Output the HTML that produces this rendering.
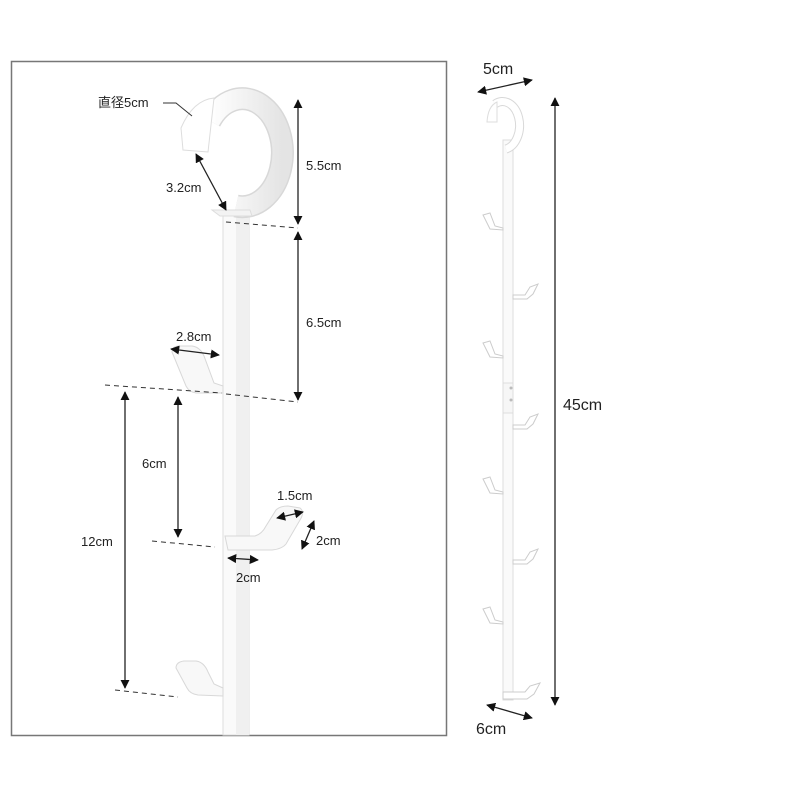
<!DOCTYPE html>
<html><head><meta charset="utf-8"><style>
html,body{margin:0;padding:0;background:#fff;}
svg{display:block;}
text{font-family:"Liberation Sans","Noto Sans CJK JP",sans-serif;fill:#222;}
</style></head><body>
<svg width="800" height="800" viewBox="0 0 800 800" xmlns="http://www.w3.org/2000/svg">
<defs>
<marker id="a" viewBox="0 0 10 10" refX="9" refY="5" markerWidth="7" markerHeight="7" orient="auto-start-reverse"><path d="M0,0 L10,5 L0,10 z" fill="#111"/></marker>
<linearGradient id="g" x1="0" x2="1"><stop offset="0" stop-color="#fff"/><stop offset="1" stop-color="#e4e4e4"/></linearGradient>
</defs>
<rect x="11.5" y="61.5" width="435" height="674" fill="#fff" stroke="#777" stroke-width="1.5"/>
<!-- bar -->
<rect x="223" y="214" width="26" height="521" fill="#fafafa" stroke="#ddd"/>
<rect x="236" y="214" width="13" height="521" fill="#f0f0f0"/>
<!-- ring -->
<path d="M236,206 A40,54 0 1 0 210,121" fill="none" stroke="#d8d8d8" stroke-width="23"/>
<path d="M236,206 A40,54 0 1 0 210,121" fill="none" stroke="url(#g)" stroke-width="20"/>
<path d="M181,128 Q193,100 214,98 L208,152 L183,150 Z" fill="#fff" stroke="#ddd"/>
<path d="M212,210 L250,210 L252,216 L220,216 Z" fill="#f3f3f3" stroke="#ddd"/>
<!-- hooks -->
<path d="M172,352 Q172,346 180,346 L192,346 Q200,347 204,356 L214,383 L223,386 L223,393 L196,393 Q189,392 186,386 Z" fill="#f8f8f8" stroke="#d8d8d8"/>
<path d="M225,536 L255,536 Q262,534 266,526 L276,510 Q280,506 288,506 L300,508 Q305,512 300,520 L286,544 Q282,549 272,550 L228,550 Z" fill="#f8f8f8" stroke="#d8d8d8"/>
<path d="M176,668 Q176,662 184,661 L196,661 Q204,662 208,672 L214,684 L223,688 L223,696 L198,695 Q190,694 187,688 Z" fill="#f8f8f8" stroke="#d8d8d8"/>
<!-- dashed -->
<g stroke="#333" stroke-width="1" stroke-dasharray="5,4" fill="none">
<line x1="226" y1="222" x2="298" y2="228"/>
<line x1="226" y1="394" x2="298" y2="402"/>
<line x1="105" y1="385" x2="222" y2="393"/>
<line x1="152" y1="541" x2="215" y2="547"/>
<line x1="115" y1="690" x2="178" y2="697"/>
</g>
<!-- arrows -->
<g stroke="#222" stroke-width="1.3" fill="none" marker-start="url(#a)" marker-end="url(#a)">
<line x1="298" y1="100" x2="298" y2="224"/>
<line x1="298" y1="232" x2="298" y2="400"/>
<line x1="196" y1="154" x2="226" y2="210"/>
<line x1="171" y1="349" x2="219" y2="355"/>
<line x1="178" y1="397" x2="178" y2="537"/>
<line x1="125" y1="392" x2="125" y2="688"/>
<line x1="277" y1="518" x2="303" y2="512"/>
<line x1="314" y1="521" x2="302" y2="549"/>
<line x1="228" y1="558" x2="258" y2="560"/>
</g>
<g font-size="13">
<text x="98" y="107">直径5cm</text>
<text x="306" y="170">5.5cm</text>
<text x="306" y="327">6.5cm</text>
<text x="166" y="192">3.2cm</text>
<text x="176" y="341">2.8cm</text>
<text x="142" y="468">6cm</text>
<text x="81" y="546">12cm</text>
<text x="277" y="500">1.5cm</text>
<text x="316" y="545">2cm</text>
<text x="236" y="582">2cm</text>
</g>
<path d="M163,103 L176,103 L192,116" fill="none" stroke="#333" stroke-width="1"/>
<!-- right product -->
<rect x="503" y="140" width="10" height="560" fill="#fafafa" stroke="#ddd"/>
<path d="M506,149 A17,24 0 1 0 495,104" fill="none" stroke="#d8d8d8" stroke-width="9"/>
<path d="M506,149 A17,24 0 1 0 495,104" fill="none" stroke="#fff" stroke-width="7"/>
<path d="M487,122 Q488,106 497,102 L497,122 Z" fill="#fff" stroke="#ddd"/>
<rect x="503" y="383" width="10" height="30" fill="#f6f6f6" stroke="#ddd"/>
<circle cx="511" cy="388" r="1.5" fill="#bbb"/><circle cx="511" cy="400" r="1.5" fill="#bbb"/>
<g fill="#fff" stroke="#ccc">
<path d="M483,215 L490,213 L495,226 L503,228 L503,230 L490,229 Z"/>
<path d="M483,343 L490,341 L495,354 L503,356 L503,358 L490,357 Z"/>
<path d="M483,479 L490,477 L495,490 L503,492 L503,494 L490,493 Z"/>
<path d="M483,609 L490,607 L495,620 L503,622 L503,624 L490,623 Z"/>
<path d="M513,295 L525,295 L530,287 L538,284 L533,294 L527,299 L513,299 Z"/>
<path d="M513,425 L525,425 L530,417 L538,414 L533,424 L527,429 L513,429 Z"/>
<path d="M513,560 L525,560 L530,552 L538,549 L533,559 L527,564 L513,564 Z"/>
<path d="M503,692 L525,692 L530,686 L540,683 L534,694 L527,699 L503,699 Z"/>
</g>
<g stroke="#222" stroke-width="1.3" fill="none" marker-start="url(#a)" marker-end="url(#a)">
<line x1="478" y1="92" x2="532" y2="80"/>
<line x1="555" y1="98" x2="555" y2="705"/>
<line x1="487" y1="705" x2="532" y2="718"/>
</g>
<g font-size="16">
<text x="483" y="74">5cm</text>
<text x="563" y="410">45cm</text>
<text x="476" y="734">6cm</text>
</g>
</svg>
</body></html>
